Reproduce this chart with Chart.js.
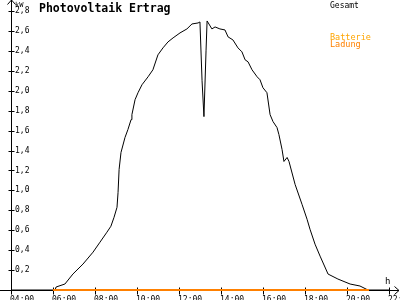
<!DOCTYPE html>
<html lang="de">
<head>
<meta charset="UTF-8">
<title>Photovoltaik Ertrag</title>
<script src="https://cdn.jsdelivr.net/npm/chart.js"></script>
<style>
  html, body { margin: 0; padding: 0; background: #fff; }
  #wrap { position: relative; width: 400px; height: 300px; }
</style>
</head>
<body>
<div id="wrap"><canvas id="pvChart" width="400" height="300"></canvas></div>
<script>
// Tageskurve (Stunde, kW)
const gesamtHours = [4.0, 6.05, 6.10, 6.52, 6.90, 7.38, 7.86, 8.19, 8.52, 8.71, 8.86, 9.00, 9.05, 9.10, 9.19, 9.38, 9.52, 9.67,
  9.71, 9.86, 10.0, 10.19, 10.48, 10.71, 10.95, 11.19, 11.43, 11.67, 12.0, 12.33, 12.57, 12.86, 12.95,
  13.05, 13.14, 13.24, 13.29, 13.52, 13.67, 13.90, 14.14, 14.29, 14.52, 14.76, 14.95, 15.10, 15.24, 15.43,
  15.67, 15.81, 15.95, 16.14, 16.29, 16.43, 16.62, 16.71, 16.86, 16.95, 17.10, 17.19, 17.48, 17.81, 18.05,
  18.19, 18.43, 18.67, 19.05, 19.52, 20.10, 20.57, 20.95, 22.0];
const gesamtKw = [0, 0, 0.03, 0.06, 0.16, 0.26, 0.38, 0.48, 0.58, 0.64, 0.73, 0.83, 0.98, 1.21, 1.38, 1.53, 1.61, 1.71,
  1.76, 1.91, 1.98, 2.06, 2.14, 2.21, 2.36, 2.43, 2.49, 2.53, 2.58, 2.62, 2.67, 2.68, 2.69,
  2.10, 1.74, 2.40, 2.70, 2.62, 2.64, 2.62, 2.61, 2.54, 2.51, 2.43, 2.39, 2.31, 2.29, 2.21,
  2.14, 2.11, 2.03, 1.98, 1.76, 1.69, 1.63, 1.56, 1.41, 1.29, 1.33, 1.29, 1.06, 0.86, 0.71,
  0.61, 0.46, 0.34, 0.16, 0.11, 0.06, 0.04, 0, 0];
const ladungHours = [5.95, 21.0];
const ladungKw = [0, 0];

const xTicks = [4, 6, 8, 10, 12, 14, 16, 18, 20, 22];
const yTicks = [0.2, 0.4, 0.6, 0.8, 1.0, 1.2, 1.4, 1.6, 1.8, 2.0, 2.2, 2.4, 2.6, 2.8];

const MONO = '"DejaVu Sans Mono", monospace';

const axesPlugin = {
    id: 'axesPlugin',
    beforeDatasetsDraw(chart) {
        const ctx = chart.ctx;
        const xs = chart.scales.x;
        const ys = chart.scales.y;
        const x0 = Math.round(xs.getPixelForValue(4)) - 0.5;
        const y0 = Math.round(ys.getPixelForValue(0)) + 0.5;
        ctx.save();
        ctx.strokeStyle = '#000';
        ctx.lineWidth = 1;
        ctx.beginPath();
        // x-Achse mit Pfeil
        ctx.moveTo(0, y0); ctx.lineTo(399, y0);
        ctx.moveTo(399, y0); ctx.lineTo(394.5, y0 - 4);
        ctx.moveTo(399, y0); ctx.lineTo(394.5, y0 + 4);
        // y-Achse mit Pfeil
        ctx.moveTo(x0, y0); ctx.lineTo(x0, 0);
        ctx.moveTo(x0, 0); ctx.lineTo(x0 - 4, 4.5);
        ctx.moveTo(x0, 0); ctx.lineTo(x0 + 4, 4.5);
        yTicks.forEach(v => {
            const py = Math.round(ys.getPixelForValue(v)) + 0.5;
            ctx.moveTo(x0 - 3, py); ctx.lineTo(x0 + 3, py);
        });
        xTicks.forEach(v => {
            const px = Math.round(xs.getPixelForValue(v)) - 0.5;
            ctx.moveTo(px, y0 - 3); ctx.lineTo(px, y0 + 4);
        });
        ctx.stroke();
        ctx.restore();
    },
    afterDraw(chart) {
        const ctx = chart.ctx;
        ctx.save();
        ctx.textBaseline = 'alphabetic';
        ctx.textAlign = 'left';
        ctx.fillStyle = '#000';
        ctx.font = 'bold 11.5px ' + MONO;
        ctx.fillText('Photovoltaik Ertrag', 39, 12);
        ctx.font = '8px ' + MONO;
        ctx.fillText('Gesamt', 330, 8);
        ctx.font = '8.5px ' + MONO;
        ctx.fillStyle = '#ffa500';
        ctx.fillText('Batterie', 330, 40);
        ctx.fillStyle = '#ff8000';
        ctx.fillText('Ladung', 330, 47);
        ctx.fillStyle = '#000';
        ctx.font = '7px ' + MONO;
        ctx.fillText('kW', 15, 7);
        ctx.font = '9px ' + MONO;
        ctx.fillText('h', 385, 284);
        ctx.restore();
    }
};

const ctx = document.getElementById('pvChart').getContext('2d');
new Chart(ctx, {
    type: 'line',
    data: {
        datasets: [
            {
                label: 'Batterie Ladung',
                data: ladungHours.map((h, i) => ({ x: h, y: ladungKw[i] })),
                borderColor: '#ff8000',
                borderWidth: 2,
                pointRadius: 0,
                fill: false,
                clip: false,
                order: 0
            },
            {
                label: 'Gesamt',
                data: gesamtHours.map((h, i) => ({ x: h, y: gesamtKw[i] })),
                borderColor: '#000000',
                borderWidth: 1,
                pointRadius: 0,
                fill: false,
                clip: false,
                tension: 0,
                order: 1
            }
        ]
    },
    options: {
        responsive: false,
        animation: false,
        devicePixelRatio: 1,
        layout: { padding: { top: 11, right: 10, left: 0, bottom: 0 } },
        plugins: {
            legend: { display: false },
            tooltip: { enabled: false }
        },
        scales: {
            x: {
                type: 'linear',
                min: 4,
                max: 22,
                grid: { display: false },
                border: { display: false },
                afterBuildTicks: s => { s.ticks = xTicks.map(v => ({ value: v })); },
                afterFit: s => { s.height = 10; s.paddingLeft = 0; s.paddingRight = 0; },
                ticks: {
                    autoSkip: false,
                    maxRotation: 0,
                    padding: -3,
                    align: 'start',
                    labelOffset: -2,
                    color: '#000',
                    font: { family: MONO, size: 8 },
                    callback: v => String(v).padStart(2, '0') + ':00'
                }
            },
            y: {
                min: 0,
                max: 2.8,
                position: 'left',
                grid: { display: false },
                border: { display: false },
                afterBuildTicks: s => { s.ticks = yTicks.map(v => ({ value: v })); },
                afterFit: s => { s.width = 12; s.paddingTop = 0; s.paddingBottom = 0; },
                ticks: {
                    mirror: true,
                    padding: 3,
                    color: '#000',
                    font: { family: MONO, size: 8 },
                    callback: v => v.toFixed(1).replace('.', ',')
                }
            }
        }
    },
    plugins: [axesPlugin]
});
</script>
</body>
</html>
